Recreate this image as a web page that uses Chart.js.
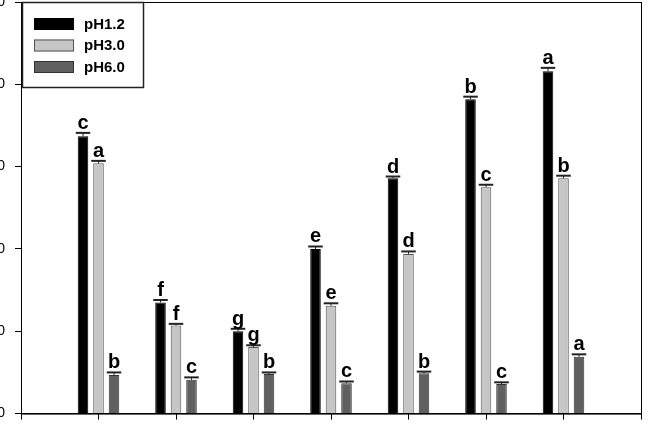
<!DOCTYPE html>
<html>
<head>
<meta charset="utf-8">
<script src="https://cdn.jsdelivr.net/npm/chart.js@4/dist/chart.umd.min.js"></script>
<style>
  html, body { margin: 0; padding: 0; background: #fff; overflow: hidden; width: 648px; height: 432px; }
  #myChart { position: absolute; left: -39px; top: -20px; }
</style>
</head>
<body>
<canvas id="myChart" width="687" height="452"></canvas>
<script>
// group positions along the x axis (1..7), axis runs 0..8
const groups = [1, 2, 3, 4, 5, 6, 7];
const yTicks = [0, 10, 20, 30, 40, 50];

const ph12 = [33.7, 13.5, 10.0, 20.0, 28.6, 38.2, 41.6];
const ph30 = [30.4, 10.7, 8.1, 13.1, 19.4, 27.5, 28.6];
const ph60 = [4.7, 4.1, 4.8, 3.7, 4.9, 3.6, 6.9];

const err12 = [0.4, 0.3, 0.3, 0.3, 0.2, 0.3, 0.4];
const err30 = [0.3, 0.2, 0.2, 0.3, 0.3, 0.3, 0.3];
const err60 = [0.3, 0.3, 0.2, 0.2, 0.2, 0.2, 0.3];

const let12 = ["c", "f", "g", "e", "d", "b", "a"];
const let30 = ["a", "f", "g", "e", "d", "c", "b"];
const let60 = ["b", "c", "b", "c", "b", "c", "a"];

const toPoints = (vals) => vals.map((v, i) => ({ x: groups[i], y: v }));

// error bars + significance letters on top of each bar
const barExtras = {
  id: "barExtras",
  afterDatasetsDraw(chart) {
    const ctx = chart.ctx;
    const yScale = chart.scales.y;
    chart.data.datasets.forEach((ds, di) => {
      const meta = chart.getDatasetMeta(di);
      meta.data.forEach((bar, i) => {
        const v = ds.data[i].y;
        const capY = yScale.getPixelForValue(v + ds.errors[i]);
        const half = bar.width / 2 + 2;
        ctx.save();
        ctx.strokeStyle = "#222";
        ctx.lineWidth = 1;
        ctx.beginPath();
        ctx.moveTo(bar.x, bar.y);
        ctx.lineTo(bar.x, capY);
        ctx.stroke();
        ctx.lineWidth = 2;
        ctx.beginPath();
        ctx.moveTo(bar.x - half, capY);
        ctx.lineTo(bar.x + half, capY);
        ctx.stroke();
        ctx.fillStyle = "#000";
        ctx.font = "bold 20px 'Liberation Sans', Arial, sans-serif";
        ctx.textAlign = "center";
        ctx.textBaseline = "alphabetic";
        ctx.fillText(ds.letters[i], bar.x, capY - 4);
        ctx.restore();
      });
    });
  },
};

// box frame and legend drawn inside the plot
const frameLegend = {
  id: "frameLegend",
  afterDraw(chart) {
    const ctx = chart.ctx;
    const a = chart.chartArea;
    ctx.save();
    ctx.strokeStyle = "#000";
    ctx.lineWidth = 1;
    ctx.strokeRect(a.left + 0.5, a.top + 0.5, a.right - a.left, a.bottom - a.top);

    const bx = a.left + 1, by = a.top, bw = 121, bh = 85;
    ctx.lineWidth = 1.5;
    ctx.strokeStyle = "#222";
    ctx.strokeRect(bx + 0.5, by + 0.5, bw, bh);

    ctx.font = "bold 15px 'Liberation Sans', Arial, sans-serif";
    ctx.textBaseline = "middle";
    ctx.textAlign = "left";
    chart.data.datasets.forEach((ds, i) => {
      const sy = by + 16 + i * 21.5;
      ctx.fillStyle = ds.backgroundColor;
      ctx.fillRect(bx + 12, sy, 40, 12);
      ctx.lineWidth = 1;
      ctx.strokeStyle = ds.borderColor;
      ctx.strokeRect(bx + 12.5, sy + 0.5, 39, 11);
      ctx.fillStyle = "#000";
      ctx.fillText(ds.label, bx + 62, sy + 6.5);
    });
    ctx.restore();
  },
};

const ctx = document.getElementById("myChart").getContext("2d");
new Chart(ctx, {
  type: "bar",
  data: {
    datasets: [
      { label: "pH1.2", data: toPoints(ph12), errors: err12, letters: let12,
        backgroundColor: "#000000", borderColor: "#000000", borderWidth: 1 },
      { label: "pH3.0", data: toPoints(ph30), errors: err30, letters: let30,
        backgroundColor: "#c6c6c6", borderColor: "#555555", borderWidth: 1 },
      { label: "pH6.0", data: toPoints(ph60), errors: err60, letters: let60,
        backgroundColor: "#606060", borderColor: "#333333", borderWidth: 1 },
    ],
  },
  options: {
    responsive: false,
    animation: false,
    categoryPercentage: 0.6,
    barPercentage: 0.68,
    layout: { padding: { top: 22, right: 7, left: 0, bottom: 0 } },
    plugins: { legend: { display: false }, tooltip: { enabled: false } },
    scales: {
      x: {
        type: "linear",
        offset: false,
        min: 0,
        max: 8,
        ticks: { display: false, stepSize: 1 },
        grid: { display: true, offset: false, drawOnChartArea: false, drawTicks: true, tickLength: 6, color: "#000" },
        border: { display: true, color: "#000" },
        afterFit: (scale) => { scale.height = 16; },
      },
      y: {
        min: 0,
        max: 50,
        afterBuildTicks: (scale) => { scale.ticks = yTicks.map((v) => ({ value: v })); },
        ticks: {
          padding: 10,
          color: "#000",
          font: { family: "'Liberation Sans', Arial, sans-serif", size: 14 },
        },
        grid: { display: true, drawOnChartArea: false, drawTicks: true, tickLength: 6, color: "#000" },
        border: { display: true, color: "#000" },
        afterFit: (scale) => { scale.width = 60; },
      },
    },
  },
  plugins: [barExtras, frameLegend],
});
</script>
</body>
</html>
